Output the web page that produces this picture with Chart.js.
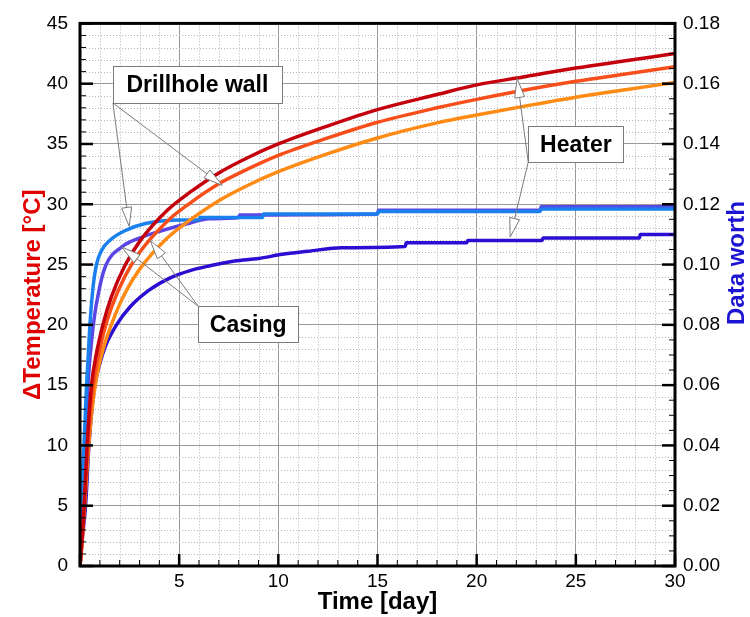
<!DOCTYPE html>
<html lang="en">
  <head>
    <meta charset="UTF-8" />
    <title>Temperature and data worth</title>
    <style>
      html,
      body {
        margin: 0;
        padding: 0;
        background: #fff;
      }
    </style>
  </head>
  <body>
    <canvas id="worthChart" width="750" height="617"></canvas>

    <script src="https://cdn.jsdelivr.net/npm/chart.js"></script>
    <script>
      // Temperature rise [degC], left axis
      const tempTime = [0, 0.1, 0.21, 0.36, 0.58, 0.85, 1.17, 1.6, 2.26, 3, 4.4, 5.55, 7, 8.5, 10, 12.5, 15, 18, 20, 22.5, 25, 27.5, 30];
      const tempHeater = [0, 2.2, 5, 10, 15, 17.8, 20.1, 22.4, 24.9, 26.9, 29.5, 31.0, 32.6, 33.9, 35.0, 36.5, 37.85, 39.1, 39.9, 40.6, 41.3, 41.9, 42.5];
      const tempWall = [0, 2, 4.8, 9, 13.8, 16.8, 19.2, 21.5, 24.0, 26.0, 28.6, 30.1, 31.7, 32.95, 34.05, 35.5, 36.8, 38.0, 38.7, 39.5, 40.2, 40.8, 41.4];
      const tempCasing = [0, 1.8, 4.4, 8.2, 12.6, 15.8, 18.0, 20.1, 22.6, 24.6, 27.2, 28.7, 30.3, 31.6, 32.7, 34.2, 35.5, 36.75, 37.4, 38.16, 38.88, 39.5, 40.1];

      // Data worth, right axis
      const wallWorthTime = [0, 0.05, 0.12, 0.2, 0.33, 0.5, 0.65, 0.83, 1.1, 1.5, 2.26, 3.3, 5, 6, 6.05, 9.2, 9.25, 15, 15.05, 23.2, 23.25, 30];
      const wallWorth = [0, 0.017, 0.03, 0.04, 0.06, 0.08, 0.092, 0.1, 0.1048, 0.108, 0.1112, 0.1136, 0.1148, 0.1148, 0.1156, 0.1156, 0.1168, 0.1168, 0.1176, 0.1176, 0.1184, 0.1184];
      const casingWorthTime = [0, 0.08, 0.15, 0.27, 0.4, 0.67, 1.0, 1.32, 2.1, 3, 4.1, 5.55, 6.5, 8, 8.05, 15, 15.05, 23.2, 23.25, 30];
      const casingWorth = [0, 0.01, 0.02, 0.04, 0.06, 0.08, 0.0928, 0.1, 0.1058, 0.1088, 0.1112, 0.1138, 0.1152, 0.1156, 0.1164, 0.1168, 0.118, 0.118, 0.1192, 0.1192];
      const heaterWorthTime = [0, 0.1, 0.28, 0.45, 0.6, 0.75, 1.0, 1.3, 1.84, 2.53, 3.5, 4.55, 5.55, 6.56, 7.8, 9.0, 10.2, 11.5, 13.2, 16.4, 16.45, 19.5, 19.55, 23.3, 23.35, 28.2, 28.25, 30];
      const heaterWorth = [0, 0.008, 0.02, 0.04, 0.052, 0.06, 0.0672, 0.0732, 0.08, 0.086, 0.0916, 0.0956, 0.098, 0.0996, 0.1012, 0.102, 0.1034, 0.1044, 0.1056, 0.106, 0.1072, 0.1072, 0.108, 0.108, 0.1088, 0.1088, 0.11, 0.11];

      // axis ranges / ticks
      const timeRange = [0, 30];
      const tempRange = [0, 45];
      const worthRange = [0, 0.18];
      const timeStep = 5, tempStep = 5, worthStep = 0.02;
      const timeMinor = 1, tempMinor = 1, worthMinor = 0.005;

      // callout boxes, in data units (time, degC)
      const callouts = [
        { text: 'Drillhole wall', box: [1.66, 41.45, 10.18, 38.4], from: [1.66, 38.4], tips: [[2.48, 28.17], [7.17, 31.57]] },
        { text: 'Heater', box: [22.6, 36.45, 27.4, 33.5], from: [22.6, 33.5], tips: [[22.04, 40.43], [21.69, 27.28]] },
        { text: 'Casing', box: [5.96, 21.54, 11.0, 18.56], from: [5.96, 21.54], tips: [[2.11, 26.45], [3.54, 27.0]] },
      ];

      const FONT = "'Liberation Sans', Arial, Helvetica, sans-serif";
      const toPoints = (xs, ys) => xs.map((x, i) => ({ x: x, y: ys[i] }));

      function line(ctx, x1, y1, x2, y2) {
        ctx.beginPath();
        ctx.moveTo(x1, y1);
        ctx.lineTo(x2, y2);
        ctx.stroke();
      }

      const decorations = {
        id: 'decorations',
        beforeDatasetsDraw(chart) {
          // dotted minor grid
          const { ctx, chartArea: a, scales } = chart;
          const x = scales.x, y = scales.y;
          ctx.save();
          ctx.strokeStyle = '#b5b5b5';
          ctx.lineWidth = 1;
          ctx.setLineDash([1, 2]);
          for (let t = timeRange[0]; t <= timeRange[1]; t += timeMinor) {
            if (t % timeStep === 0) continue;
            const px = Math.round(x.getPixelForValue(t)) + 0.5;
            line(ctx, px, a.top, px, a.bottom);
          }
          for (let v = tempRange[0]; v <= tempRange[1]; v += tempMinor) {
            if (v % tempStep === 0) continue;
            const py = Math.round(y.getPixelForValue(v)) + 0.5;
            line(ctx, a.left, py, a.right, py);
          }
          ctx.restore();
        },
        afterDatasetsDraw(chart) {
          const { ctx, chartArea: a, scales } = chart;
          const x = scales.x, y = scales.y, y2 = scales.y2;
          ctx.save();
          ctx.strokeStyle = '#000';
          ctx.setLineDash([]);

          // inward tick marks
          for (let t = timeRange[0]; t <= timeRange[1] + 1e-9; t += timeMinor) {
            const major = t % timeStep === 0;
            const px = x.getPixelForValue(t);
            ctx.lineWidth = major ? 2.5 : 1;
            line(ctx, px, a.bottom, px, a.bottom - (major ? 12 : 6));
          }
          for (let v = tempRange[0]; v <= tempRange[1] + 1e-9; v += tempMinor) {
            const major = v % tempStep === 0;
            const py = y.getPixelForValue(v);
            ctx.lineWidth = major ? 2.5 : 1;
            line(ctx, a.left, py, a.left + (major ? 13 : 6), py);
          }
          const nWorth = Math.round((worthRange[1] - worthRange[0]) / worthMinor);
          for (let k = 0; k <= nWorth; k++) {
            const major = k % Math.round(worthStep / worthMinor) === 0;
            const py = y2.getPixelForValue(k * worthMinor);
            ctx.lineWidth = major ? 2.5 : 1;
            line(ctx, a.right, py, a.right - (major ? 13 : 6), py);
          }

          // frame
          ctx.lineWidth = 3;
          ctx.strokeRect(a.left, a.top, a.right - a.left, a.bottom - a.top);

          // callouts
          ctx.lineWidth = 1;
          ctx.strokeStyle = '#7a7a7a';
          callouts.forEach((c) => {
            const sx = x.getPixelForValue(c.from[0]);
            const sy = y.getPixelForValue(c.from[1]);
            c.tips.forEach((tip) => {
              const tx = x.getPixelForValue(tip[0]);
              const ty = y.getPixelForValue(tip[1]);
              const len = Math.hypot(tx - sx, ty - sy);
              const ux = (tx - sx) / len, uy = (ty - sy) / len;
              const bx = tx - ux * 19, by = ty - uy * 19;
              line(ctx, sx, sy, bx, by);
              ctx.beginPath();
              ctx.moveTo(tx, ty);
              ctx.lineTo(bx - uy * 5, by + ux * 5);
              ctx.lineTo(bx + uy * 5, by - ux * 5);
              ctx.closePath();
              ctx.fillStyle = '#fff';
              ctx.fill();
              ctx.stroke();
            });
            const bl = x.getPixelForValue(c.box[0]);
            const bt = y.getPixelForValue(c.box[1]);
            const br = x.getPixelForValue(c.box[2]);
            const bb = y.getPixelForValue(c.box[3]);
            ctx.fillStyle = '#fff';
            ctx.fillRect(bl, bt, br - bl, bb - bt);
            ctx.strokeRect(Math.round(bl) + 0.5, Math.round(bt) + 0.5, Math.round(br - bl), Math.round(bb - bt));
            ctx.fillStyle = '#000';
            ctx.font = 'bold 23px ' + FONT;
            ctx.textAlign = 'center';
            ctx.textBaseline = 'middle';
            ctx.fillText(c.text, (bl + br) / 2, (bt + bb) / 2 + 1);
          });

          // right axis title, reading bottom to top
          ctx.translate(737, 263);
          ctx.rotate(-Math.PI / 2);
          ctx.fillStyle = '#1c14d2';
          ctx.font = 'bold 24px ' + FONT;
          ctx.textAlign = 'center';
          ctx.textBaseline = 'middle';
          ctx.fillText('Data worth', 0, 0);
          ctx.restore();
        },
      };

      const ctx = document.getElementById('worthChart').getContext('2d');
      new Chart(ctx, {
        type: 'line',
        data: {
          datasets: [
            { label: 'Heater T', data: toPoints(tempTime, tempHeater), borderColor: '#c4000c', yAxisID: 'y' },
            { label: 'Drillhole wall T', data: toPoints(tempTime, tempWall), borderColor: '#f84e1a', yAxisID: 'y' },
            { label: 'Casing T', data: toPoints(tempTime, tempCasing), borderColor: '#ff8a14', yAxisID: 'y' },
            { label: 'Drillhole wall worth', data: toPoints(wallWorthTime, wallWorth), borderColor: '#1a80ee', yAxisID: 'y2' },
            { label: 'Casing worth', data: toPoints(casingWorthTime, casingWorth), borderColor: '#5a46e4', yAxisID: 'y2' },
            { label: 'Heater worth', data: toPoints(heaterWorthTime, heaterWorth), borderColor: '#2a0ed2', yAxisID: 'y2' },
          ],
        },
        options: {
          responsive: false,
          animation: false,
          devicePixelRatio: 1,
          layout: { padding: { top: 23, left: 0, right: 0, bottom: 0 } },
          elements: {
            point: { radius: 0 },
            line: { borderWidth: 3.5, cubicInterpolationMode: 'monotone', fill: false },
          },
          plugins: { legend: { display: false }, tooltip: { enabled: false } },
          scales: {
            x: {
              type: 'linear',
              position: 'bottom',
              min: timeRange[0],
              max: timeRange[1],
              afterFit: (s) => { s.height = 51; },
              ticks: {
                stepSize: timeStep,
                callback: (v) => (v === 0 ? '' : v),
                color: '#000',
                font: { family: FONT, size: 19 },
                padding: 4,
                maxRotation: 0,
              },
              grid: { color: '#999', lineWidth: 1, drawTicks: false },
              border: { display: false },
              title: {
                display: true,
                text: 'Time [day]',
                color: '#000',
                font: { family: FONT, size: 24, weight: 'bold' },
                padding: 0,
              },
            },
            y: {
              position: 'left',
              min: tempRange[0],
              max: tempRange[1],
              afterFit: (s) => { s.width = 80; },
              ticks: {
                stepSize: tempStep,
                color: '#000',
                font: { family: FONT, size: 19 },
                padding: 12,
              },
              grid: { color: '#999', lineWidth: 1, drawTicks: false },
              border: { display: false },
              title: {
                display: true,
                text: '\u0394Temperature [\u00b0C]',
                color: '#e00000',
                font: { family: FONT, size: 24, weight: 'bold' },
                padding: { top: 19, bottom: 0 },
              },
            },
            y2: {
              position: 'right',
              min: worthRange[0],
              max: worthRange[1],
              afterFit: (s) => { s.width = 75; },
              ticks: {
                stepSize: worthStep,
                callback: (v) => v.toFixed(2),
                color: '#000',
                font: { family: FONT, size: 19 },
                padding: 8,
              },
              grid: { drawOnChartArea: false, drawTicks: false },
              border: { display: false },
            },
          },
        },
        plugins: [decorations],
      });
    </script>
  </body>
</html>
